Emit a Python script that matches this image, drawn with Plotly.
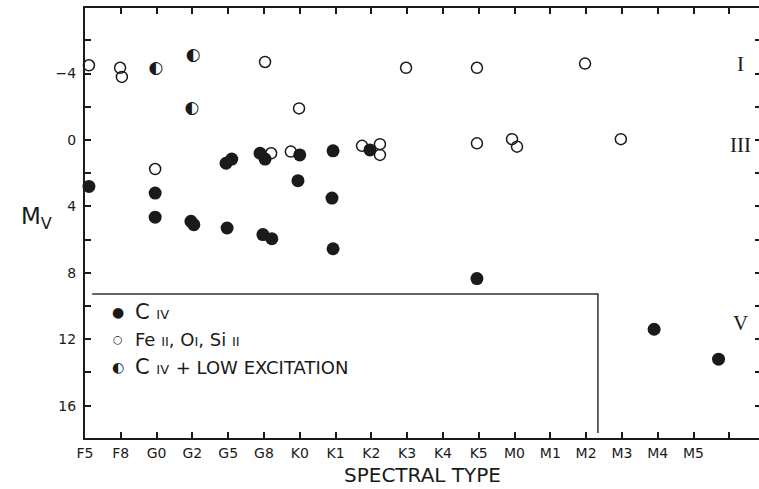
import plotly.graph_objects as go

# spectral type axis labels (index 0 = F5)
spectral_labels = ['F5', 'F8', 'G0', 'G2', 'G5', 'G8', 'K0', 'K1', 'K2', 'K3',
                   'K4', 'K5', 'M0', 'M1', 'M2', 'M3', 'M4', 'M5']

# C IV detections (filled circles)
civ_type = [0.11, 1.96, 1.96, 2.96, 3.04, 3.97, 3.94, 4.10, 4.89, 5.03, 4.97,
            5.22, 6.00, 5.95, 6.93, 6.90, 6.93, 7.96, 10.95, 15.90, 17.70]
civ_mv = [2.8, 3.2, 4.65, 4.9, 5.1, 5.3, 1.4, 1.15, 0.8, 1.15, 5.7,
          5.95, 0.9, 2.45, 0.65, 3.5, 6.55, 0.6, 8.35, 11.4, 13.2]

# Fe II, O I, Si II (open circles)
low_type = [0.11, 0.98, 1.03, 5.03, 5.98, 1.96, 5.20, 5.75, 7.74, 8.24, 8.24,
            8.97, 10.95, 13.97, 10.95, 11.93, 12.07, 14.97]
low_mv = [-4.5, -4.35, -3.8, -4.7, -1.9, 1.75, 0.8, 0.7, 0.35, 0.25, 0.9,
          -4.35, -4.35, -4.6, 0.2, -0.05, 0.4, -0.05]

# C IV + low excitation (half filled)
both_type = [1.98, 3.02, 2.99]
both_mv = [-4.3, -5.1, -1.9]

# luminosity class labels
class_labels = ['I', 'III', 'V']
class_mv = [-4.6, 0.3, 11.0]

ink = '#1a1a1a'
sans = 'DejaVu Sans'

fig = go.Figure()

fig.add_trace(go.Scatter(
    x=civ_type, y=civ_mv, mode='markers', name='C IV',
    marker=dict(symbol='circle', size=13, color=ink),
    cliponaxis=False, showlegend=False
))

fig.add_trace(go.Scatter(
    x=low_type, y=low_mv, mode='markers', name='Fe II, O I, Si II',
    marker=dict(symbol='circle-open', size=11, color=ink, line=dict(width=1.5)),
    cliponaxis=False, showlegend=False
))

fig.add_trace(go.Scatter(
    x=both_type, y=both_mv, mode='text', name='C IV + low excitation',
    text=['\u25d0'] * len(both_type), textposition='middle center',
    textfont=dict(family=sans, size=17, color=ink),
    cliponaxis=False, showlegend=False
))

# right-hand tick marks (no spine drawn there)
fig.add_trace(go.Scatter(x=[None], y=[None], yaxis='y2', showlegend=False))

# luminosity classes on the right
for lab, mv in zip(class_labels, class_mv):
    fig.add_annotation(x=18.3, y=mv, text=lab, showarrow=False,
                       font=dict(family='Liberation Serif', size=21, color=ink))

# legend box (open at the axes)
fig.add_shape(type='path', path='M 0.2,9.28 L 14.33,9.28 L 14.33,17.65',
              line=dict(color='#333', width=1.5), xref='x', yref='y')

small = "<span style='font-size:13px'>{}</span>"
mid = "<span style='font-size:18px'>{}</span>"
legend_rows = [
    ('\u25cf', 14, "C " + small.format('IV'), 10.36),
    ('\u25cb', 11, mid.format("Fe " + small.format('II') + ", O" + small.format('I')
                              + ", Si " + small.format('II')), 12.0),
    ('\u25d0', 14, "C " + small.format('IV') + " " + mid.format('+ LOW EXCITATION'), 13.7),
]
for sym, sym_size, txt, mv in legend_rows:
    fig.add_annotation(x=0.92, y=mv, text=sym, showarrow=False, xanchor='center',
                       font=dict(family=sans, size=sym_size, color=ink))
    fig.add_annotation(x=1.35, y=mv, text=txt, showarrow=False, xanchor='left',
                       font=dict(family=sans, size=21, color=ink))

# M_V label (horizontal)
fig.add_annotation(x=-0.072, y=4.7, xref='paper', yref='y', showarrow=False,
                   text="M<sub>V</sub>", xanchor='center',
                   font=dict(family=sans, size=23, color=ink))

# x axis title, placed by hand so it sits low like the original
fig.add_annotation(x=0.5, y=-0.086, xref='paper', yref='paper', showarrow=False,
                   text='SPECTRAL TYPE', xanchor='center', yanchor='middle',
                   font=dict(family=sans, size=20, color=ink))

fig.update_layout(
    width=759, height=489,
    margin=dict(l=85, r=0, t=8, b=51),
    paper_bgcolor='white', plot_bgcolor='white',
    xaxis=dict(
        range=[0, 18.83],
        tickvals=list(range(19)),
        ticktext=spectral_labels + [' '],
        ticks='inside', ticklen=6, tickwidth=1.5, tickcolor=ink,
        showline=True, linewidth=2, linecolor=ink, mirror='ticks',
        showgrid=False, zeroline=False,
        tickfont=dict(family=sans, size=14, color=ink),
        ticklabelstandoff=1,
    ),
    yaxis=dict(
        range=[17.95, -7.95],
        tickvals=[-4, 0, 4, 8, 12, 16],
        ticks='inside', ticklen=6, tickwidth=1.5, tickcolor=ink,
        minor=dict(tickvals=[-6, -2, 2, 6, 10, 14], ticks='inside', ticklen=6,
                   tickwidth=1.5, tickcolor=ink),
        showline=True, linewidth=2, linecolor=ink,
        showgrid=False, zeroline=False,
        tickfont=dict(family=sans, size=14, color=ink),
        ticklabelstandoff=4,
    ),
    yaxis2=dict(
        overlaying='y', side='right', matches='y', range=[17.95, -7.95],
        tickvals=[-6, -4, -2, 0, 2, 4, 6, 8, 10, 12, 14, 16],
        ticks='inside', ticklen=4, tickwidth=1.5, tickcolor=ink,
        showticklabels=False, showline=False, showgrid=False, zeroline=False,
    ),
)

# drop the default 8px page margin so the figure fills the window
fig.write_html("out.html", config={'displayModeBar': False},
               post_script="document.body.style.margin = '0';")
